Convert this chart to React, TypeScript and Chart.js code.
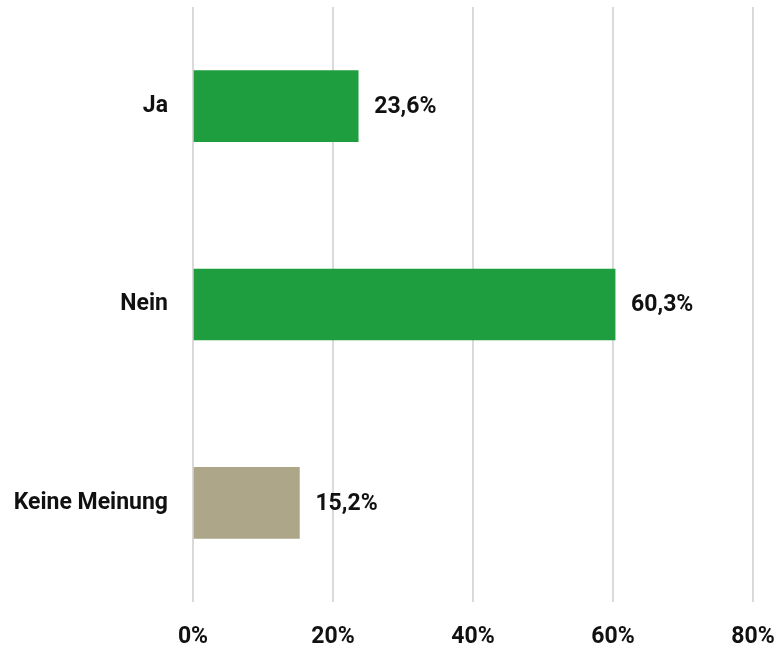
import React, { useEffect, useRef } from "react";
import { Chart, registerables } from "chart.js";

Chart.register(...registerables);

const categories = ["Ja", "Nein", "Keine Meinung"];
const values = [23.6, 60.3, 15.2];
const valueLabels = ["23,6%", "60,3%", "15,2%"];
const barColors = ["#1e9e3e", "#1e9e3e", "#ada689"];
const xTicks = [0, 20, 40, 60, 80];

const FONT = "Roboto, 'DejaVu Sans Condensed', sans-serif";
const FONT_SIZE = 23;
const FONT_WEIGHT = "bold";

const labelPlugin = {
  id: "valueLabels",
  afterDatasetsDraw(chart: any) {
    const { ctx } = chart;
    const meta = chart.getDatasetMeta(0);
    ctx.save();
    ctx.font = `${FONT_WEIGHT} ${FONT_SIZE}px ${FONT}`;
    ctx.fillStyle = "#111111";
    ctx.textAlign = "left";
    ctx.textBaseline = "middle";
    meta.data.forEach((bar: any, i: number) => {
      ctx.fillText(valueLabels[i], bar.x + 16, bar.y + 1);
    });
    ctx.restore();
  },
};

function zeroPadding(scale: any) {
  scale.paddingLeft = 0;
  scale.paddingRight = 0;
  scale.paddingTop = 0;
  scale.paddingBottom = 0;
}

export default function App() {
  const ref = useRef<HTMLCanvasElement | null>(null);
  useEffect(() => {
    if (!ref.current) return;
    const chart = new Chart(ref.current, {
      type: "bar",
      data: {
        labels: categories,
        datasets: [
          {
            data: values,
            backgroundColor: barColors,
            barThickness: 71,
            borderWidth: 0,
          },
        ],
      },
      options: {
        indexAxis: "y",
        animation: false,
        responsive: false,
        maintainAspectRatio: false,
        layout: { autoPadding: false, padding: { top: 7, right: 28, left: 0, bottom: 0 } },
        plugins: { legend: { display: false }, tooltip: { enabled: false } },
        scales: {
          x: {
            min: 0,
            max: 80,
            afterFit(scale: any) {
              scale.height = 51;
              zeroPadding(scale);
            },
            afterBuildTicks(scale: any) {
              scale.ticks = xTicks.map((v) => ({ value: v }));
            },
            grid: { color: "#dadada", lineWidth: 2, drawTicks: false },
            border: { display: false },
            ticks: {
              padding: 21,
              color: "#111111",
              font: { family: FONT, size: FONT_SIZE, weight: FONT_WEIGHT },
              callback: (v: any) => `${v}%`,
              maxRotation: 0,
            },
          },
          y: {
            afterFit(scale: any) {
              scale.width = 193;
              zeroPadding(scale);
            },
            grid: { display: false, drawTicks: false },
            border: { display: false },
            ticks: {
              padding: 25,
              color: "#111111",
              font: { family: FONT, size: FONT_SIZE, weight: FONT_WEIGHT },
            },
          },
        },
      },
      plugins: [labelPlugin],
    });
    return () => chart.destroy();
  }, []);
  return (
    <div style={{ position: "absolute", left: 0, top: 0, width: 781, height: 653, background: "#fff" }}>
      <canvas ref={ref} width={781} height={653} style={{ display: "block" }} />
    </div>
  );
}
